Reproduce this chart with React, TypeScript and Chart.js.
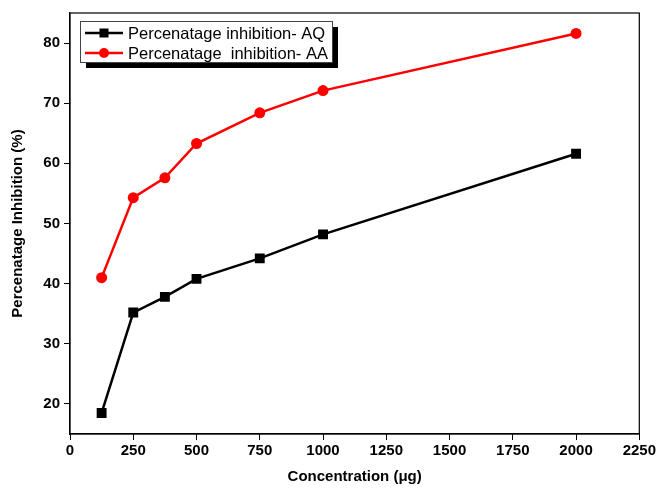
import React, { useEffect, useRef } from "react";
import { Chart, registerables } from "chart.js";

Chart.register(...registerables);

const concentrations = [125, 250, 375, 500, 750, 1000, 2000];
const inhibitionAQ = [18.5, 35.2, 37.8, 40.8, 44.2, 48.2, 61.6];
const inhibitionAA = [41.0, 54.3, 57.6, 63.3, 68.4, 72.1, 81.6];
const yTickValues = [20, 30, 40, 50, 60, 70, 80];
const seriesLabels = ["Percenatage inhibition- AQ", "Percenatage  inhibition- AA"];

const FONT = "'Liberation Sans', Arial, sans-serif";

const framePlugin = {
  id: "frame",
  afterDraw(chart: any) {
    const { ctx, chartArea: a } = chart;
    ctx.save();
    ctx.strokeStyle = "#000";
    ctx.lineWidth = 1.2;
    ctx.strokeRect(a.left, a.top, a.right - a.left, a.bottom - a.top);

    // legend box
    const bx = 80, by = 21, bw = 252, bh = 41;
    ctx.fillStyle = "#000";
    ctx.fillRect(bx + 6, by + 6, bw, bh);
    ctx.fillStyle = "#fff";
    ctx.fillRect(bx, by, bw, bh);
    ctx.strokeStyle = "#444";
    ctx.lineWidth = 1;
    ctx.strokeRect(bx + 0.5, by + 0.5, bw, bh);

    const rows = [33, 53];
    chart.data.datasets.forEach((ds: any, i: number) => {
      const y = rows[i];
      ctx.strokeStyle = ds.borderColor;
      ctx.lineWidth = 2.5;
      ctx.beginPath();
      ctx.moveTo(85, y);
      ctx.lineTo(123, y);
      ctx.stroke();
      ctx.fillStyle = ds.borderColor;
      if (ds.pointStyle === "rect") {
        ctx.fillRect(104 - 4.5, y - 4.5, 9, 9);
      } else {
        ctx.beginPath();
        ctx.arc(104, y, 5, 0, Math.PI * 2);
        ctx.fill();
      }
      ctx.fillStyle = "#000";
      ctx.font = `16.5px ${FONT}`;
      ctx.textBaseline = "middle";
      ctx.textAlign = "left";
      ctx.fillText(ds.label, 128, y + 1);
    });
    ctx.restore();
  },
};

export default function App() {
  const ref = useRef<HTMLCanvasElement>(null);
  useEffect(() => {
    if (!ref.current) return;
    const chart = new Chart(ref.current, {
      type: "line",
      data: {
        datasets: [
          {
            label: seriesLabels[0],
            data: concentrations.map((x, i) => ({ x, y: inhibitionAQ[i] })),
            borderColor: "#000000",
            backgroundColor: "#000000",
            borderWidth: 2.5,
            pointStyle: "rect",
            pointRadius: 7,
            pointBorderWidth: 0,
            tension: 0,
          },
          {
            label: seriesLabels[1],
            data: concentrations.map((x, i) => ({ x, y: inhibitionAA[i] })),
            borderColor: "#ff0000",
            backgroundColor: "#ff0000",
            borderWidth: 2.5,
            pointStyle: "circle",
            pointRadius: 5.5,
            pointBorderWidth: 0,
            tension: 0,
          },
        ],
      },
      options: {
        animation: false,
        responsive: false,
        layout: { padding: { top: 12, right: 13, left: 0, bottom: 0 } },
        plugins: { legend: { display: false }, tooltip: { enabled: false } },
        scales: {
          x: {
            type: "linear",
            min: 0,
            max: 2250,
            ticks: {
              stepSize: 250,
              color: "#000",
              font: { family: FONT, size: 15, weight: "bold" },
              padding: 2,
              maxRotation: 0,
              callback: (v: any) => String(v),
            },
            grid: { drawOnChartArea: false, drawTicks: true, tickLength: 6, color: "#000" },
            border: { color: "#000", width: 1.2 },
            title: {
              display: true,
              text: "Concentration (μg)",
              color: "#000",
              font: { family: FONT, size: 15, weight: "bold" },
              padding: { top: 4, bottom: 3 },
            },
            afterFit: (s: any) => {
              s.height = 55;
            },
          },
          y: {
            type: "linear",
            min: 15,
            max: 85,
            afterBuildTicks: (s: any) => {
              s.ticks = yTickValues.map((v) => ({ value: v }));
            },
            ticks: {
              color: "#000",
              font: { family: FONT, size: 15, weight: "bold" },
              padding: 4,
            },
            grid: { drawOnChartArea: false, drawTicks: true, tickLength: 6, color: "#000" },
            border: { color: "#000", width: 1.2 },
            title: {
              display: true,
              text: "Percenatage Inhibition (%)",
              color: "#000",
              font: { family: FONT, size: 15, weight: "bold" },
              padding: { top: 9, bottom: 4 },
            },
            afterFit: (s: any) => {
              s.width = 70;
            },
          },
        },
      },
      plugins: [framePlugin],
    } as any);
    return () => chart.destroy();
  }, []);
  return (
    <div style={{ position: "fixed", left: 0, top: 0, width: 658, height: 489, background: "#fff" }}>
      <canvas ref={ref} width={658} height={489} style={{ display: "block" }} />
    </div>
  );
}
